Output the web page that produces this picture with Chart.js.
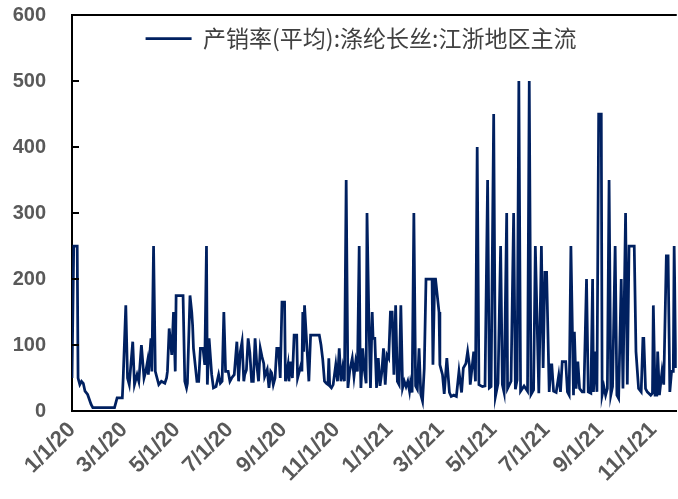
<!DOCTYPE html>
<html>
<head>
<meta charset="utf-8">
<script src="https://cdn.jsdelivr.net/npm/chart.js@4.4.0/dist/chart.umd.min.js"></script>
<style>
  html, body { margin: 0; padding: 0; background: #fff; }
</style>
</head>
<body>
<canvas id="salesRatioChart" width="678" height="499"></canvas>
<script>
// series: 产销率(平均):涤纶长丝:江浙地区主流, x = days since 1/1/20
const seriesName = '产销率(平均):涤纶长丝:江浙地区主流';
const dayIndex = [
  0, 2, 6, 7, 9, 11, 13, 15, 18, 22, 24, 49, 52, 58, 59, 62, 64, 66, 70, 72,
  75, 77, 80, 83, 85, 87, 88, 89, 91, 92, 94, 96, 98, 100, 103, 107, 109, 110, 112, 115,
  117, 119, 120, 128, 130, 132, 133, 136, 138, 139, 140, 142, 144, 146, 148, 151, 153, 155, 156, 158,
  159, 161, 163, 166, 169, 171, 173, 175, 177, 180, 182, 184, 187, 190, 192, 194, 196, 198, 199, 201,
  203, 205, 207, 209, 211, 213, 215, 217, 219, 221, 222, 225, 227, 229, 230, 232, 234, 236, 238, 240,
  242, 245, 246, 249, 250, 252, 254, 256, 259, 260, 262, 264, 265, 266, 267, 268, 273, 275, 285, 287,
  289, 291, 293, 295, 296, 297, 299, 301, 304, 306, 308, 310, 312, 314, 316, 318, 320, 323, 325, 327,
  329, 331, 332, 333, 335, 337, 339, 340, 342, 344, 346, 347, 349, 351, 353, 355, 357, 359, 361, 363,
  365, 367, 369, 371, 373, 375, 377, 379, 381, 383, 385, 387, 389, 390, 392, 394, 396, 398, 400, 402,
  404, 406, 408, 415, 416, 418, 419, 423, 424, 426, 427, 429, 432, 435, 437, 440, 443, 446, 449, 451,
  454, 456, 458, 459, 463, 465, 467, 469, 473, 476, 479, 481, 483, 486, 488, 491, 494, 496, 498, 501,
  502, 506, 509, 511, 513, 515, 517, 521, 525, 527, 529, 532, 534, 538, 541, 543, 545, 547, 550, 552,
  553, 555, 558, 561, 563, 565, 569, 571, 573, 575, 578, 579, 581, 583, 585, 588, 590, 593, 595, 598,
  600, 601, 603, 605, 607, 610, 611, 613, 615, 617, 619, 621, 623, 626, 628, 630, 633, 635, 638, 640,
  642, 648, 650, 653, 656, 658, 659, 661, 663, 667, 669, 670, 672, 674, 675, 677, 680, 682, 685, 687,
  689, 691, 693, 694, 696
];
const salesRatio = [
  50, 250, 250, 50, 40, 45, 42, 30, 25, 10, 5, 5, 20, 20, 50, 160, 50, 40, 105, 40,
  55, 45, 100, 50, 60, 75, 55, 75, 110, 60, 250, 60, 50, 40, 45, 42, 50, 60, 125, 85,
  150, 60, 175, 175, 45, 35, 42, 175, 150, 130, 95, 70, 45, 45, 95, 95, 70, 250, 40, 110,
  110, 55, 35, 37, 55, 42, 45, 150, 60, 60, 45, 50, 55, 105, 45, 90, 105, 45, 55, 62,
  110, 88, 45, 45, 110, 70, 45, 95, 82, 72, 52, 63, 35, 60, 58, 40, 50, 95, 95, 50,
  165, 165, 45, 70, 45, 75, 50, 115, 115, 50, 60, 70, 60, 150, 90, 160, 45, 115, 115, 100,
  78, 45, 42, 40, 80, 38, 35, 40, 70, 45, 95, 45, 65, 45, 350, 35, 60, 80, 52, 75,
  60, 250, 90, 35, 95, 62, 42, 300, 150, 35, 150, 110, 110, 35, 80, 38, 58, 95, 40, 85,
  80, 150, 150, 55, 160, 45, 40, 160, 35, 45, 37, 45, 30, 42, 28, 300, 38, 33, 95, 25,
  15, 65, 200, 200, 70, 200, 200, 150, 70, 60, 55, 26, 80, 28, 22, 24, 22, 60, 28, 65,
  72, 90, 70, 40, 90, 45, 400, 40, 37, 38, 350, 35, 37, 450, 22, 42, 250, 40, 28, 300,
  34, 45, 300, 33, 47, 500, 30, 38, 30, 500, 25, 32, 250, 27, 250, 65, 210, 210, 29, 70,
  70, 30, 28, 54, 29, 75, 75, 29, 24, 250, 24, 120, 34, 75, 34, 29, 29, 200, 29, 27,
  200, 29, 90, 29, 450, 450, 24, 37, 24, 34, 350, 24, 37, 250, 24, 19, 200, 34, 300, 40,
  250, 250, 90, 34, 29, 110, 110, 34, 29, 24, 27, 160, 24, 24, 90, 24, 60, 40, 235, 235,
  29, 60, 60, 250, 65
];
// x-axis tick positions (days since 1/1/20) and their labels
const tickDays = [0, 60, 121, 182, 244, 305, 366, 425, 486, 547, 609, 670];
const tickLabels = ['1/1/20', '3/1/20', '5/1/20', '7/1/20', '9/1/20', '11/1/20',
  '1/1/21', '3/1/21', '5/1/21', '7/1/21', '9/1/21', '11/1/21'];
const lastDay = 697;

const lineColor = '#002060';
const tickColor = '#595959';
const fontFamily = '"Liberation Sans", Arial, sans-serif';

const points = dayIndex.map((d, i) => ({ x: d, y: salesRatio[i] }));

// legend sits inside the plot area: no layout height, but keep its real box for drawing
const legendOverlay = {
  id: 'legendOverlay',
  afterInit(chart) {
    const legend = chart.legend;
    const fit = legend.fit;
    legend.fit = function () {
      fit.call(this);
      this.realHeight = this.height;
      this.height = 0;
    };
  },
  afterLayout(chart) {
    const legend = chart.legend;
    legend.top = chart.chartArea.top;
    legend.height = legend.realHeight;
    legend.bottom = legend.top + legend.realHeight;
    // nudge the centred item a bit left, like the original
    legend.left = 44;
    legend.right = chart.width;
  }
};

// top border and inward y tick marks
const axisFrame = {
  id: 'axisFrame',
  afterDatasetsDraw(chart) {
    const { ctx, chartArea, scales } = chart;
    const y = scales.y;
    ctx.save();
    ctx.strokeStyle = '#000';
    ctx.lineWidth = 2;
    ctx.beginPath();
    ctx.moveTo(chartArea.left, chartArea.top);
    ctx.lineTo(chartArea.right, chartArea.top);
    y.ticks.forEach((t) => {
      const py = y.getPixelForValue(t.value);
      ctx.moveTo(chartArea.left, py);
      ctx.lineTo(chartArea.left + 7, py);
    });
    ctx.stroke();
    ctx.restore();
  }
};

const ctx = document.getElementById('salesRatioChart').getContext('2d');
new Chart(ctx, {
  type: 'line',
  data: {
    datasets: [{
      label: seriesName,
      data: points,
      borderColor: lineColor,
      backgroundColor: lineColor,
      borderWidth: 2.75,
      pointRadius: 0,
      tension: 0,
    }],
  },
  options: {
    responsive: false,
    animation: false,
    layout: { padding: { top: 15, left: 0, right: 0, bottom: 0 } },
    plugins: {
      tooltip: { enabled: false },
      legend: {
        position: 'top',
        fullSize: true,
        labels: {
          boxWidth: 46,
          boxHeight: 0,
          padding: 12,
          color: '#404040',
          font: { family: '"Noto Sans CJK SC", sans-serif', size: 23 },
        },
      },
    },
    scales: {
      x: {
        type: 'linear',
        min: 0,
        max: lastDay,
        afterBuildTicks: (scale) => {
          scale.ticks = tickDays.map((v) => ({ value: v }));
        },
        afterFit: (scale) => {
          scale.height = 88;
        },
        ticks: {
          autoSkip: false,
          minRotation: 45,
          maxRotation: 45,
          padding: 6,
          color: tickColor,
          font: { family: fontFamily, size: 22, weight: 'bold' },
          callback: (value, index) => tickLabels[index],
        },
        grid: { display: true, drawOnChartArea: false, drawTicks: false },
        border: { display: true, color: '#000', width: 2 },
      },
      y: {
        min: 0,
        max: 600,
        afterFit: (scale) => {
          scale.width = 72;
        },
        ticks: {
          stepSize: 100,
          padding: 3,
          color: tickColor,
          font: { family: fontFamily, size: 20, weight: 'bold' },
        },
        // invisible outer tick marks just push the labels away from the axis
        grid: { display: true, drawOnChartArea: false, drawTicks: true, tickLength: 23, tickColor: 'rgba(0,0,0,0)' },
        border: { display: true, color: '#000', width: 2 },
      },
    },
  },
  plugins: [legendOverlay, axisFrame],
});
</script>
</body>
</html>
